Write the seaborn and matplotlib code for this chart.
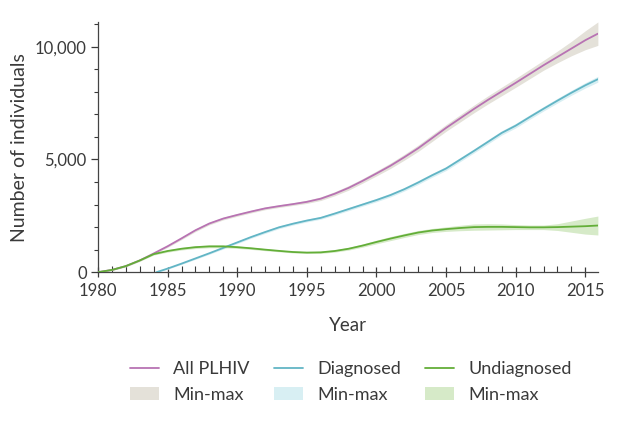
import numpy as np
import pandas as pd
import matplotlib
matplotlib.use("Agg")
import matplotlib.pyplot as plt
from matplotlib.lines import Line2D
from matplotlib.patches import Patch
from matplotlib.ticker import MultipleLocator, FuncFormatter
import seaborn as sns

# ---------------- data ----------------
years = [1980, 1981, 1982, 1983, 1984, 1985, 1986, 1987, 1988, 1989, 1990,
         1991, 1992, 1993, 1994, 1995, 1996, 1997, 1998, 1999, 2000,
         2001, 2002, 2003, 2004, 2005, 2006, 2007, 2008, 2009, 2010,
         2011, 2012, 2013, 2014, 2015, 2015.9]

all_plhiv = [0, 100, 270, 520, 830, 1150, 1500, 1860, 2160, 2380, 2540,
             2690, 2830, 2930, 3020, 3120, 3260, 3480, 3740, 4050, 4380,
             4720, 5100, 5500, 5950, 6400, 6820, 7240, 7640, 8020, 8400,
             8790, 9180, 9550, 9920, 10290, 10580]
all_spread = [20, 25, 30, 35, 40, 50, 55, 60, 60, 60, 60,
              60, 60, 60, 60, 70, 80, 90, 100, 100, 110,
              120, 130, 140, 150, 150, 160, 170, 180, 190, 200,
              210, 220, 260, 320, 420, 520]

diag_years = [1984.2, 1985, 1986, 1987, 1988, 1989, 1990,
              1991, 1992, 1993, 1994, 1995, 1996, 1997, 1998, 1999, 2000,
              2001, 2002, 2003, 2004, 2005, 2006, 2007, 2008, 2009, 2010,
              2011, 2012, 2013, 2014, 2015, 2015.9]
diagnosed = [0, 160, 380, 610, 840, 1080, 1320,
             1560, 1780, 1990, 2150, 2290, 2410, 2600, 2800, 3000, 3200,
             3420, 3680, 3980, 4300, 4600, 4990, 5380, 5780, 6180, 6500,
             6880, 7250, 7610, 7960, 8290, 8560]
diag_spread = [20, 30, 35, 40, 45, 50, 55,
               55, 60, 60, 60, 60, 60, 65, 70, 70, 75,
               80, 80, 85, 85, 90, 90, 90, 95, 95, 100,
               100, 100, 105, 110, 120, 130]

undiagnosed = [0, 100, 270, 520, 800, 940, 1040, 1110, 1145, 1145, 1110,
               1060, 1000, 945, 895, 870, 880, 940, 1040, 1180, 1340,
               1490, 1630, 1760, 1850, 1910, 1960, 2000, 2010, 2010, 2000,
               1990, 1990, 2000, 2020, 2040, 2070]
undiag_spread = [20, 25, 30, 35, 40, 50, 55, 60, 60, 60, 55,
                 50, 45, 40, 40, 40, 45, 50, 60, 70, 80,
                 90, 90, 90, 90, 100, 120, 140, 140, 130, 110,
                 100, 100, 150, 250, 350, 420]

series_names = ["All PLHIV", "Diagnosed", "Undiagnosed"]
band_label = "Min-max"
line_colors = ["#b873b3", "#62b5c5", "#63ae38"]
band_colors = ["#e4e1d9", "#d8eff3", "#d6eac8"]

# ---------------- build long-form table ----------------
df = pd.concat([
    pd.DataFrame({"Year": years, "Value": all_plhiv,
                  "lo": np.array(all_plhiv) - np.array(all_spread),
                  "hi": np.array(all_plhiv) + np.array(all_spread),
                  "Series": series_names[0]}),
    pd.DataFrame({"Year": diag_years, "Value": diagnosed,
                  "lo": np.array(diagnosed) - np.array(diag_spread),
                  "hi": np.array(diagnosed) + np.array(diag_spread),
                  "Series": series_names[1]}),
    pd.DataFrame({"Year": years, "Value": undiagnosed,
                  "lo": np.array(undiagnosed) - np.array(undiag_spread),
                  "hi": np.array(undiagnosed) + np.array(undiag_spread),
                  "Series": series_names[2]}),
], ignore_index=True)
df["lo"] = df["lo"].clip(lower=0)

# ---------------- plot ----------------
sns.set_theme(style="ticks")
plt.rcParams["font.family"] = ["Lato", "DejaVu Sans"]
text_color = "#3a3a3a"
plt.rcParams["text.color"] = text_color
plt.rcParams["axes.labelcolor"] = text_color
plt.rcParams["xtick.color"] = text_color
plt.rcParams["ytick.color"] = text_color

fig = plt.figure(figsize=(6.32, 4.22), dpi=100)
ax = fig.add_axes([0.155, 0.355, 0.791, 0.593])

for name, bc in zip(series_names, band_colors):
    sub = df[df["Series"] == name]
    ax.fill_between(sub["Year"], sub["lo"], sub["hi"], color=bc, lw=0, zorder=1)

sns.lineplot(data=df, x="Year", y="Value", hue="Series", hue_order=series_names,
             palette=line_colors, linewidth=1.3, ax=ax, legend=False, zorder=3)

ax.set_xlim(1980, 2015.9)
ax.set_ylim(0, 11100)
ax.xaxis.set_major_locator(MultipleLocator(5))
ax.xaxis.set_minor_locator(MultipleLocator(1))
ax.yaxis.set_major_locator(MultipleLocator(5000))
ax.yaxis.set_minor_locator(MultipleLocator(1000))
ax.yaxis.set_major_formatter(FuncFormatter(lambda v, p: f"{int(v):,}"))

ax.tick_params(axis="x", which="major", direction="inout", length=7, width=0.9,
               labelsize=12, pad=4)
ax.tick_params(axis="x", which="minor", direction="in", length=4, width=0.8)
ax.tick_params(axis="y", which="major", direction="out", length=5, width=0.9,
               labelsize=12, pad=3)
ax.tick_params(axis="y", which="minor", direction="out", length=3, width=0.8)

for s in ["top", "right"]:
    ax.spines[s].set_visible(False)
for s in ["left", "bottom"]:
    ax.spines[s].set_color("#444444")
    ax.spines[s].set_linewidth(0.9)

ax.set_xlabel("Year", fontsize=13.5, labelpad=13)
ax.set_ylabel("Number of individuals", fontsize=14, labelpad=5)

handles, labels = [], []
for name, lc, bc in zip(series_names, line_colors, band_colors):
    handles.append(Line2D([0], [0], color=lc, lw=1.3))
    labels.append(name)
    handles.append(Patch(facecolor=bc, edgecolor="none"))
    labels.append(band_label)

fig.legend(handles, labels, ncol=3, loc="center", bbox_to_anchor=(0.555, 0.095),
           frameon=False, fontsize=13, handlelength=1.6, handletextpad=0.8,
           columnspacing=1.35, labelspacing=0.55)

fig.savefig("out.png", dpi=100)
